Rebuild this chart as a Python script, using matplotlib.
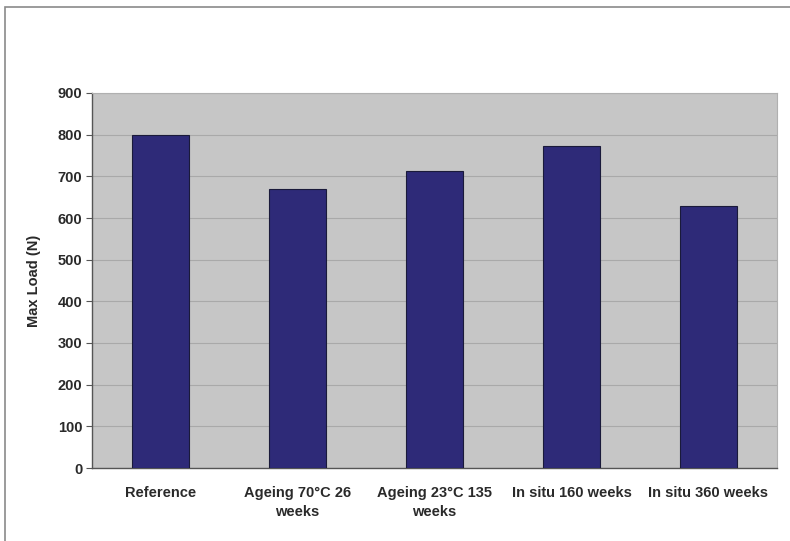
import matplotlib
matplotlib.use("Agg")
import matplotlib.pyplot as plt
from matplotlib.patches import Rectangle

categories = [
    "Reference",
    "Ageing 70°C 26\nweeks",
    "Ageing 23°C 135\nweeks",
    "In situ 160 weeks",
    "In situ 360 weeks",
]
max_load = [800, 669, 712, 773, 630]
y_ticks = [0, 100, 200, 300, 400, 500, 600, 700, 800, 900]

plt.rcParams["font.family"] = ["Liberation Sans", "DejaVu Sans"]

fig = plt.figure(figsize=(7.9, 5.41), dpi=100)
fig.patch.set_facecolor("white")

# outer chart frame
fig.patches.append(Rectangle((5 / 790, -0.05), 1.2, 1 - 7 / 541 + 0.05,
                             transform=fig.transFigure, fill=False,
                             edgecolor="#8a8a8a", linewidth=1.2))

ax = fig.add_axes([92 / 790, 1 - 468 / 541, 685 / 790, (468 - 93) / 541])
ax.set_facecolor("#c6c6c6")

x = range(len(categories))
ax.bar(x, max_load, width=0.41, color="#2e2a78", edgecolor="#1a1a3a",
       linewidth=0.8, zorder=3)

ax.set_xlim(-0.5, len(categories) - 0.5)
ax.set_ylim(0, 900)
ax.set_yticks(y_ticks)
ax.yaxis.grid(True, color="#a9a9a9", linewidth=0.8, zorder=0)
ax.set_axisbelow(True)

ax.set_xticks(list(x))
ax.set_xticklabels(categories, fontsize=10.5, fontweight="bold", color="#2a2a2a",
                   linespacing=1.45)
ax.tick_params(axis="x", length=0, pad=13)
ax.tick_params(axis="y", labelsize=10.5, length=4, color="#555555",
               labelcolor="#2a2a2a", pad=3)
for lbl in ax.get_yticklabels():
    lbl.set_fontweight("bold")

ax.set_ylabel("Max Load (N)", fontsize=10.5, fontweight="bold", color="#2a2a2a",
              labelpad=12)

for side in ("top", "right"):
    ax.spines[side].set_color("#b0b0b0")
    ax.spines[side].set_linewidth(0.8)
for side in ("left", "bottom"):
    ax.spines[side].set_color("#555555")
    ax.spines[side].set_linewidth(1.0)

fig.savefig("out.png", dpi=100, facecolor="white")
